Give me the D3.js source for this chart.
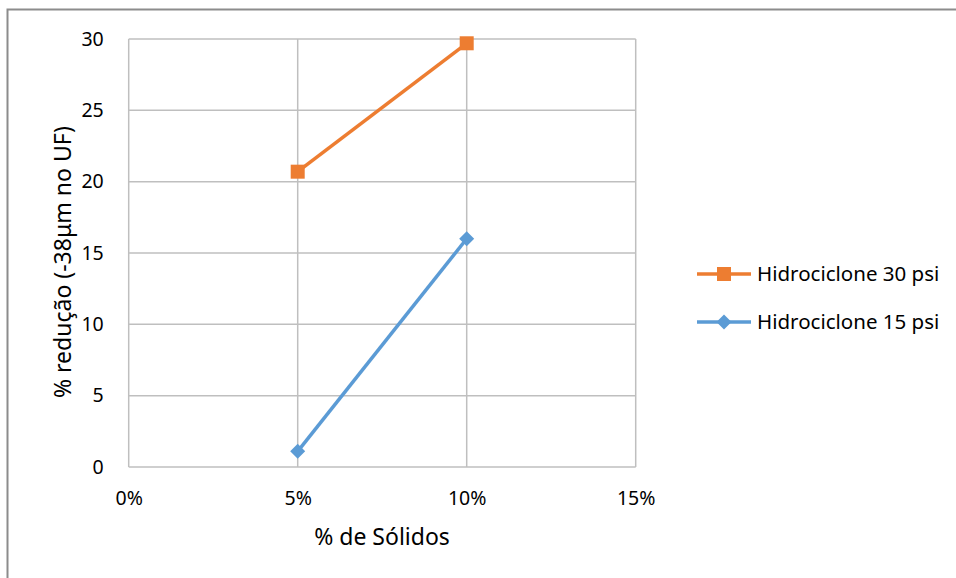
<!DOCTYPE html>
<html>
<head>
<meta charset="utf-8">
<script src="https://cdn.jsdelivr.net/npm/d3@7"></script>
<style>
  html, body { margin: 0; padding: 0; background: #fff; }
  svg { display: block; }
  text { font-family: "Noto Sans", "Open Sans", sans-serif; fill: #000; }
</style>
</head>
<body>
<svg id="chart" width="956" height="578"></svg>
<script>
// Fraction of solids (x) and reduction values per hydrocyclone pressure
const solids = [0.05, 0.10];
const series30 = [20.7, 29.7];
const series15 = [1.1, 16.0];
const seriesNames = ["Hidrociclone 30 psi", "Hidrociclone 15 psi"];
const xTicks = [0, 0.05, 0.10, 0.15];
const yTicks = [0, 5, 10, 15, 20, 25, 30];
const xTitle = "% de Sólidos";
const yTitle = "% redução (-38μm no UF)";

const svg = d3.select("#chart");
const W = 956, H = 578;
const plot = { left: 128.7, right: 635.7, top: 39, bottom: 467 };

// Outer chart frame (top and left edges visible inside the window)
svg.append("rect")
  .attr("x", 7.5).attr("y", 9.5)
  .attr("width", W + 20).attr("height", H + 20)
  .attr("fill", "none").attr("stroke", "#8c8c8c").attr("stroke-width", 2);

const x = d3.scaleLinear().domain([0, 0.15]).range([plot.left, plot.right]);
const y = d3.scaleLinear().domain([0, 30]).range([plot.bottom, plot.top]);

// Gridlines
const grid = svg.append("g").attr("stroke", "#bfbfbf").attr("stroke-width", 1.5);
grid.selectAll("line.h").data(yTicks).join("line")
  .attr("class", "h")
  .attr("x1", plot.left).attr("x2", plot.right)
  .attr("y1", d => y(d)).attr("y2", d => y(d));
grid.selectAll("line.v").data(xTicks).join("line")
  .attr("class", "v")
  .attr("x1", d => x(d)).attr("x2", d => x(d))
  .attr("y1", plot.top).attr("y2", plot.bottom);

// Axes (labels only; grid draws the lines)
const xAxis = d3.axisBottom(x).tickValues(xTicks).tickFormat(d3.format(".0%")).tickSize(0).tickPadding(24);
const gx = svg.append("g").attr("transform", `translate(0,${plot.bottom})`).call(xAxis);
gx.select(".domain").remove();
gx.selectAll("text").attr("font-size", 19.5).style("font-family", "\"Noto Sans\", sans-serif");

const yAxis = d3.axisLeft(y).tickValues(yTicks).tickSize(0).tickPadding(25);
const gy = svg.append("g").attr("transform", `translate(${plot.left},0)`).call(yAxis);
gy.select(".domain").remove();
gy.selectAll("text").attr("font-size", 19.5).style("font-family", "\"Noto Sans\", sans-serif");

// Axis titles
svg.append("text")
  .attr("x", 382).attr("y", 545)
  .attr("text-anchor", "middle").attr("font-size", 23)
  .text(xTitle);
svg.append("text")
  .attr("transform", `translate(71,262) rotate(-90)`)
  .attr("text-anchor", "middle").attr("font-size", 23)
  .text(yTitle);

// Series
const colors = ["#ed7d31", "#5b9bd5"];
const data = [series30, series15];
const line = d3.line().x((d, i) => x(solids[i])).y(d => y(d));

data.forEach((vals, k) => {
  svg.append("path").datum(vals)
    .attr("d", line).attr("fill", "none")
    .attr("stroke", colors[k]).attr("stroke-width", 3.5);
});

function marker(g, k, cx, cy) {
  if (k === 0) {
    g.append("rect").attr("x", cx - 7).attr("y", cy - 7)
      .attr("width", 14).attr("height", 14).attr("fill", colors[0]);
  } else {
    g.append("path")
      .attr("d", `M${cx},${cy - 7.5}L${cx + 7.5},${cy}L${cx},${cy + 7.5}L${cx - 7.5},${cy}Z`)
      .attr("fill", colors[1]);
  }
}

data.forEach((vals, k) => {
  const g = svg.append("g");
  vals.forEach((v, i) => marker(g, k, x(solids[i]), y(v)));
});

// Legend
const legendY = [274, 322];
seriesNames.forEach((name, k) => {
  const g = svg.append("g");
  g.append("line").attr("x1", 697).attr("x2", 751)
    .attr("y1", legendY[k]).attr("y2", legendY[k])
    .attr("stroke", colors[k]).attr("stroke-width", 3.5);
  marker(g, k, 724, legendY[k]);
  g.append("text").attr("x", 757).attr("y", legendY[k] + 7)
    .attr("font-size", 20.5).text(name);
});
</script>
</body>
</html>
